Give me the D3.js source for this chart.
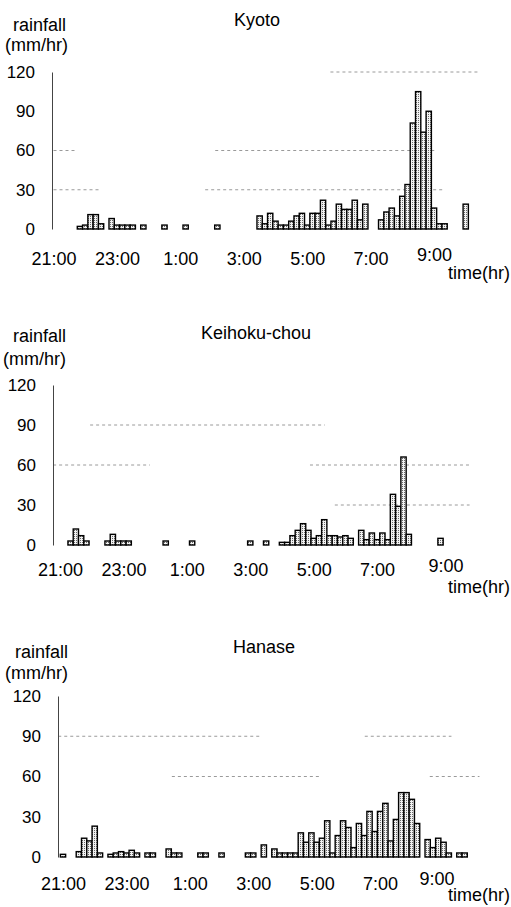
<!DOCTYPE html>
<html><head><meta charset="utf-8">
<script src="https://cdn.jsdelivr.net/npm/d3@7"></script>
<style>body{margin:0;background:#fff}svg{display:block}</style>
</head><body>
<svg id="c" width="511" height="907"></svg>
<script>
// ---------------- data ----------------
const stations = ["Kyoto", "Keihoku-chou", "Hanase"];
const tickLabels = ["21:00", "23:00", "1:00", "3:00", "5:00", "7:00", "9:00"];
const yTickValues = [0, 30, 60, 90, 120];
const yAxisTitle = ["rainfall", "(mm/hr)"];
const xAxisTitle = "time(hr)";

const kyotoTimes = ["21:50","22:00","22:10","22:20","22:30","22:50","23:00","23:10","23:20","23:30","23:50","0:30","1:10","2:10",
  "3:30","3:40","3:50","4:00","4:10","4:20","4:30","4:40","4:50","5:00","5:10","5:20","5:30","5:40","5:50","6:00","6:10","6:20","6:30","6:40","6:50",
  "7:20","7:30","7:40","7:50","8:00","8:10","8:20","8:30","8:40","8:50","9:00","9:10","9:20","10:00"];
const kyotoRain = [2,3,11,11,4,8,3,3,3,3,3,3,3,3,
  10,4,12,6,3,3,6,10,12,3,12,12,22,3,6,19,15,15,22,7,19,
  7,13,16,10,25,34,81,105,74,90,16,4,4,19];

const keihokuTimes = ["21:20","21:30","21:40","21:50","22:30","22:40","22:50","23:00","23:10","0:20","1:10","3:00","3:30",
  "4:00","4:10","4:20","4:30","4:40","4:50","5:00","5:10","5:20","5:30","5:40","5:50","6:00","6:10",
  "6:30","6:40","6:50","7:00","7:10","7:20","7:30","7:40","7:50","8:00","9:00"];
const keihokuRain = [3,12,7,3,3,8,3,3,3,3,3,3,3,
  2,2,7,11,16,11,5,7,19,7,7,6,7,5,
  11,4,9,4,9,4,38,29,66,8,5];

const hanaseTimes = ["21:00","21:30","21:40","21:50","22:00","22:10","22:30","22:40","22:50","23:00","23:10","23:20","23:40","23:50",
  "0:20","0:30","0:40","1:20","1:30","2:00","2:50","3:00","3:20","3:40","3:50","4:00","4:10","4:20",
  "4:30","4:40","4:50","5:00","5:10","5:20","5:30","5:40","5:50","6:00","6:10","6:20","6:30","6:40","6:50","7:00","7:10","7:20","7:30","7:40","7:50","8:00","8:10",
  "8:30","8:40","8:50","9:00","9:10","9:30","9:40"];
const hanaseRain = [2,4,14,12,23,3,2,3,4,3,5,3,3,3,
  6,3,3,3,3,3,3,3,9,6,3,3,3,3,
  18,11,18,11,14,27,3,16,27,22,7,25,16,34,19,34,40,12,28,48,48,43,25,
  13,7,14,11,3,3,3];

// ---------------- layout ----------------
const font = "'Liberation Sans', Arial, sans-serif";
const pxPerMin = 0.5285;
const domainMin = [0, 810];
const toMin = s => { const [h, m] = s.split(":").map(Number); return ((h - 21 + 24) % 24) * 60 + m; };

const panels = [
  {title: stations[0], times: kyotoTimes, values: kyotoRain, base: 229, top: 72, x0: 53.5, axisX: 52,
   titleX: 257, titleY: 26, lab1: [13, 31], lab2: [5, 51], xPad: 23, timeY: 279, lastShift: [0, -4],
   grid: [[120, 524, 805], [60, 0, 40], [60, 306, 722], [30, 0, 88], [30, 287, 741]]},
  {title: stations[1], times: keihokuTimes, values: keihokuRain, base: 545, top: 385, x0: 60, axisX: 53,
   titleX: 256, titleY: 339, lab1: [13, 342], lab2: [3, 365], xPad: 18, timeY: 593, lastShift: [5, -4],
   grid: [[90, 57, 501], [60, -13, 170], [60, 473, 775], [30, 520, 775]]},
  {title: stations[2], times: hanaseTimes, values: hanaseRain, base: 857, top: 696, x0: 63, axisX: 58,
   titleX: 264, titleY: 653, lab1: [15, 658], lab2: [5, 679], xPad: 20, timeY: 901, lastShift: [-7, -5],
   grid: [[90, -9, 372], [90, 571, 735], [60, 206, 489], [60, 694, 788]]}
];

const svg = d3.select("#c");
const defs = svg.append("defs");
const pat = defs.append("pattern").attr("id", "stip").attr("width", 2).attr("height", 2)
  .attr("patternUnits", "userSpaceOnUse");
pat.append("rect").attr("width", 2).attr("height", 2).attr("fill", "#f2f2f2");
pat.append("rect").attr("width", 1).attr("height", 1).attr("fill", "#6a6a6a");

panels.forEach(p => {
  const g = svg.append("g");
  const x = d3.scaleLinear().domain(domainMin)
    .range([p.x0, p.x0 + (domainMin[1] - domainMin[0]) * pxPerMin]);
  const y = d3.scaleLinear().domain([0, 120]).range([p.base, p.top]);
  const slotW = x(10) - x(0);

  // partial dotted grid lines (as in the scan)
  g.selectAll(".grid").data(p.grid).join("line")
    .attr("x1", d => Math.max(x(d[1]), p.axisX)).attr("x2", d => x(d[2]))
    .attr("y1", d => y(d[0])).attr("y2", d => y(d[0]))
    .attr("stroke", "#9a9a9a").attr("stroke-width", 1).attr("stroke-dasharray", "3,3");

  // y axis
  const ya = d3.axisLeft(y).tickValues(yTickValues).tickSize(0).tickPadding(17);
  const yg = g.append("g").attr("transform", `translate(${p.axisX},0)`).call(ya);
  yg.select(".domain").attr("stroke", "#444").attr("stroke-width", 1);
  yg.selectAll("text").attr("font-family", font).attr("font-size", 17).attr("fill", "#000");

  // x axis (labels only)
  const xa = d3.axisBottom(x).tickValues(tickLabels.map(toMin)).tickSize(0).tickPadding(p.xPad)
    .tickFormat((d, i) => tickLabels[i]);
  const xg = g.append("g").attr("transform", `translate(0,${p.base})`).call(xa);
  xg.select(".domain").remove();
  xg.selectAll("text").attr("font-family", font).attr("font-size", 18).attr("fill", "#000");
  xg.selectAll(".tick").filter((d, i) => i === tickLabels.length - 1).select("text")
    .attr("dx", p.lastShift[0]).attr("transform", `translate(0,${p.lastShift[1]})`);

  // bars
  const rows = p.times.map((t, i) => ({t: toMin(t), v: p.values[i]}));
  g.selectAll(".bar").data(rows).join("rect")
    .attr("x", d => x(d.t) - slotW / 2).attr("width", slotW)
    .attr("y", d => y(d.v)).attr("height", d => y(0) - y(d.v))
    .attr("fill", "url(#stip)").attr("stroke", "#000").attr("stroke-width", 1.4);

  // texts
  g.append("text").attr("x", p.titleX).attr("y", p.titleY).attr("text-anchor", "middle")
    .attr("font-family", font).attr("font-size", 18).text(p.title);
  g.append("text").attr("x", p.lab1[0]).attr("y", p.lab1[1])
    .attr("font-family", font).attr("font-size", 18).text(yAxisTitle[0]);
  g.append("text").attr("x", p.lab2[0]).attr("y", p.lab2[1])
    .attr("font-family", font).attr("font-size", 18).text(yAxisTitle[1]);
  g.append("text").attr("x", 510).attr("y", p.timeY).attr("text-anchor", "end")
    .attr("font-family", font).attr("font-size", 18).text(xAxisTitle);
});
</script>
</body></html>
